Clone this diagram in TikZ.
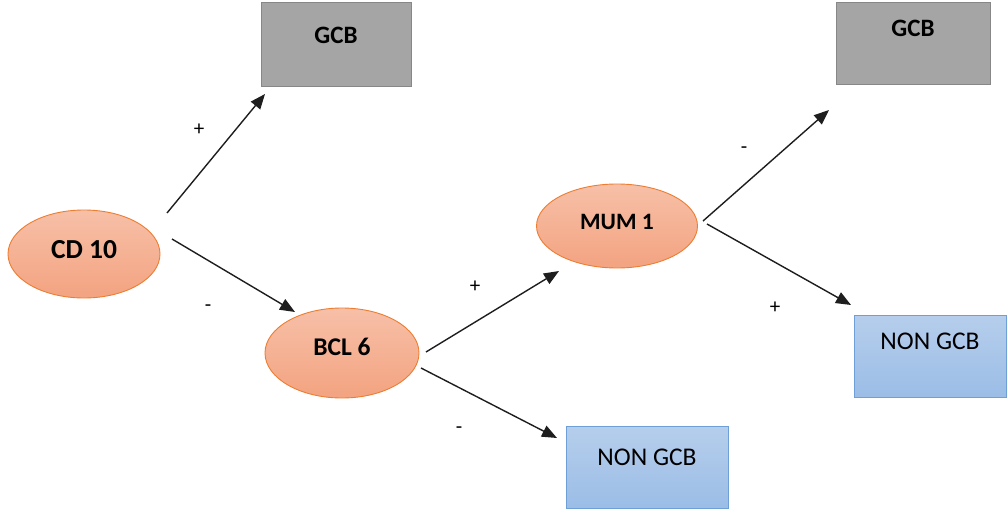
\documentclass[tikz,border=0pt]{standalone}
\usepackage{fontspec}
\setmainfont{Carlito}
\usetikzlibrary{arrows.meta,calc,shapes.geometric}
\definecolor{ellTop}{RGB}{247,192,168}
\definecolor{ellBot}{RGB}{243,163,128}
\definecolor{ellLine}{RGB}{237,125,49}
\definecolor{greyFill}{RGB}{165,165,165}
\definecolor{greyLine}{RGB}{135,135,135}
\definecolor{blueTop}{RGB}{182,206,236}
\definecolor{blueBot}{RGB}{155,189,230}
\definecolor{blueLine}{RGB}{110,160,215}
\definecolor{arrowCol}{RGB}{30,30,30}
\tikzset{
  ell/.style={ellipse, draw=ellLine, line width=0.9pt, top color=ellTop, bottom color=ellBot, font=\bfseries, inner sep=0pt},
  greybox/.style={rectangle, draw=greyLine, line width=1pt, fill=greyFill, font=\bfseries\fontsize{25}{28}\selectfont, inner sep=0pt},
  bluebox/.style={rectangle, draw=blueLine, line width=1pt, top color=blueTop, bottom color=blueBot, font=\fontsize{25.5}{28}\selectfont, inner sep=0pt},
  conn/.style={draw=arrowCol, line width=1.4pt, -{Triangle[length=15pt,width=12pt]}},
  sign/.style={font=\fontsize{21}{24}\selectfont, inner sep=0pt}
}
\begin{document}
\begin{tikzpicture}[x=1pt,y=-1pt]
\useasboundingbox (0,0) rectangle (1008,513);
% ellipses
\node[ell, minimum width=152pt, minimum height=88pt, font=\bfseries\fontsize{27.5}{30}\selectfont, text depth=10pt] (cd10) at (84,254) {CD 10};
\node[ell, minimum width=154pt, minimum height=90pt, font=\bfseries\fontsize{25.5}{28}\selectfont, text depth=12pt] (bcl6) at (342,353) {BCL 6};
\node[ell, minimum width=161pt, minimum height=84pt, font=\bfseries\fontsize{23.5}{26}\selectfont, text depth=8pt] (mum1) at (617,226) {MUM 1};
% boxes
\node[greybox, minimum width=150pt, minimum height=84pt, text depth=20pt] (gcb1) at (336,45) {GCB};
\node[greybox, minimum width=154pt, minimum height=82pt, text depth=32pt] (gcb2) at (913,44) {GCB};
\node[bluebox, minimum width=152pt, minimum height=82pt, text depth=30pt] (non1) at (930,356) {NON GCB};
\node[bluebox, minimum width=162pt, minimum height=82pt, text depth=20pt] (non2) at (647,467) {NON GCB};
% connectors
\draw[conn] ($(cd10.center)+(83,-41)$) -- ($(gcb1.center)+(-71,49)$);
\draw[conn] ($(cd10.center)+(88,-15)$) -- ($(bcl6.center)+(-47,-41)$);
\draw[conn] ($(bcl6.center)+(84,-1)$) -- ($(mum1.center)+(-58,45)$);
\draw[conn] ($(bcl6.center)+(79,15)$) -- ($(non2.center)+(-90,-29)$);
\draw[conn] ($(mum1.center)+(86,-5)$) -- ($(gcb2.center)+(-84,66)$);
\draw[conn] ($(mum1.center)+(90,-2)$) -- ($(non1.center)+(-79,-51)$);
% signs
\node[sign] (s1) at (199,130) {+};
\node[sign] (s2) at (208,308) {-};
\node[sign] (s3) at (475,287) {+};
\node[sign] (s4) at (459,430) {-};
\node[sign] (s5) at (744,150) {-};
\node[sign] (s6) at (775,308) {+};
\end{tikzpicture}
\end{document}
